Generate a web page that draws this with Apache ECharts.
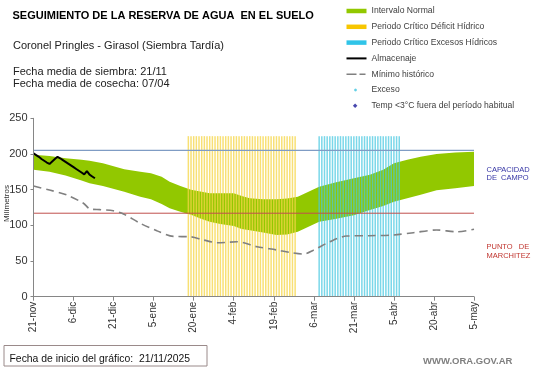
<!DOCTYPE html>
<html><head><meta charset="utf-8">
<script src="https://cdn.jsdelivr.net/npm/echarts@6/dist/echarts.min.js"></script>
<style>html,body{margin:0;padding:0;background:#fff}#c{width:541px;height:368px}</style>
</head><body><div id="c"></div>
<script>
// ---- data ----
const xTickLabels = ['21-nov','6-dic','21-dic','5-ene','20-ene','4-feb','19-feb','6-mar','21-mar','5-abr','20-abr','5-may'];
const yTicks = [0, 50, 100, 150, 200, 250];
// days counted from 21-nov
const bandDays  = [0, 6, 12, 18, 21, 26, 34, 40, 44, 48, 51, 55, 59, 63, 66, 70, 75, 78, 81, 86, 91, 95, 99, 103, 107, 113, 120, 126, 131, 135, 140, 145, 151, 158, 165];
const bandUpper = [199, 197, 194, 192, 190.5, 187, 178.5, 175, 173, 168, 161, 155, 150, 147, 145, 145, 145, 141, 138, 136.5, 136.5, 137.5, 140, 147, 154, 160, 166, 171, 178, 187, 192, 196, 200, 202, 203];
const bandLower = [178, 175, 170, 163, 159, 155, 147, 140, 136.5, 130, 124, 119, 115, 109, 105, 102, 99, 95, 93, 90, 86.5, 87, 91, 98, 105, 109, 114, 121.5, 127, 133, 138, 143, 149, 152, 155];
const minDays   = [0, 6, 12.5, 18.7, 21.2, 25, 29.9, 33.7, 39.9, 46.2, 52.4, 58.7, 63.7, 68.7, 72, 76.2, 83.7, 91.2, 96, 101.2, 104.8, 111, 117.3, 126, 134.8, 142.3, 151, 158.5, 165];
const minValues = [155, 149.5, 142.5, 131, 123, 122, 120.5, 116, 103, 92.5, 84.5, 84, 79.5, 75.7, 76, 77, 70, 65.4, 62, 59.8, 65, 77, 85, 85.5, 86.5, 89.7, 93.5, 91, 94.5];
const almDays   = [0, 1, 2, 3, 4, 5, 6, 7, 8, 9, 10, 11, 12, 13, 14, 15, 16, 17, 18, 19, 20, 21, 22, 23];
const almValues = [201, 198.5, 196, 193, 190.5, 188, 186, 189.5, 193, 196, 194, 191.5, 189, 186.5, 184, 181.5, 179, 176.5, 174, 171.5, 176, 171, 168.5, 166];
const deficitDays = [58,59,60,61,62,63,64,65,66,67,68,69,70,71,72,73,74,75,76,77,78,79,80,81,82,83,84,85,86,87,88,89,90,91,92,93,94,95,96,97,98];
const excesoDays  = [107,108,109,110,111,112,113,114,115,116,117,118,119,120,121,122,123,124,125,126,127,128,129,130,131,132,133,134,135,136,137];
const criticalTop = 225;
const capacidadCampo = 205;
const puntoMarchitez = 117;
const xMin = 0, xMax = 165, xStep = 15;

// ---- chart ----
const FONT = 'Arial, "Liberation Sans", sans-serif';
const green = '#92c800';
const chart = echarts.init(document.getElementById('c'), null, {renderer: 'canvas'});
const pairs = (xs, ys) => xs.map((x, i) => [x, ys[i]]);
const hide = {color: 'rgba(0,0,0,0)', borderWidth: 0, opacity: 0};
// legend glyphs kept inside a 20 x 5 box so they are not stretched
const dotIcon = 'path://M0,0M20,5M7.3,2.5L7.8,1.4L8.9,0.9L10,1.4L10.5,2.5L10,3.6L8.9,4.1L7.8,3.6Z';
const diamondIcon = 'path://M0,0M20,5M8.5,0L11,2.5L8.5,5L6,2.5Z';

chart.setOption({
  animation: false,
  textStyle: {fontFamily: FONT},
  grid: {left: 33.5, right: 67, top: 118.3, bottom: 71.3, outerBoundsMode: 'none', containLabel: false},
  title: [
    {text: 'SEGUIMIENTO DE LA RESERVA DE AGUA  EN EL SUELO', left: 12.5, top: 10, padding: 0,
     textStyle: {fontSize: 11, fontWeight: 'bold', color: '#000', fontFamily: FONT}},
    {text: 'Coronel Pringles - Girasol (Siembra Tardía)', left: 13, top: 40, padding: 0,
     textStyle: {fontSize: 11, fontWeight: 'normal', color: '#222', fontFamily: FONT}},
    {text: 'Fecha media de siembra: 21/11\nFecha media de cosecha: 07/04', left: 13, top: 65.5, padding: 0,
     textStyle: {fontSize: 11, fontWeight: 'normal', color: '#222', lineHeight: 12.3, fontFamily: FONT}},
    {text: 'CAPACIDAD\nDE  CAMPO', left: 486.5, top: 166, padding: 0,
     textStyle: {fontSize: 7.5, fontWeight: 'normal', color: '#3535a5', lineHeight: 8, fontFamily: FONT}},
    {text: 'PUNTO   DE\nMARCHITEZ', left: 486.5, top: 243, padding: 0,
     textStyle: {fontSize: 7.5, fontWeight: 'normal', color: '#c0352f', lineHeight: 8.7, fontFamily: FONT}},
    {text: 'Fecha de inicio del gráfico:  21/11/2025', left: 9.5, top: 354, padding: 0,
     textStyle: {fontSize: 10.4, fontWeight: 'normal', color: '#111', fontFamily: FONT}},
    {text: 'WWW.ORA.GOV.AR', left: 423, top: 356.5, padding: 0,
     textStyle: {fontSize: 9.5, fontWeight: 'bold', color: '#7f7f7f', fontFamily: FONT}}
  ],
  graphic: [
    {type: 'rect', shape: {x: 4, y: 345.5, width: 203, height: 20.5},
     style: {fill: 'none', stroke: '#9a8a8a', lineWidth: 1}}
  ],
  legend: {
    orient: 'vertical', left: 345.5, top: 6, padding: 0, itemWidth: 20, itemHeight: 4.5, itemGap: 5.8,
    textStyle: {fontSize: 8.6, color: '#404040', lineHeight: 10, fontFamily: FONT},
    data: [
      {name: 'Intervalo Normal', icon: 'rect', itemStyle: {color: green}},
      {name: 'Periodo Crítico Déficit Hídrico', icon: 'rect', itemStyle: {color: '#f7c600'}},
      {name: 'Periodo Crítico Excesos Hídricos', icon: 'rect', itemStyle: {color: '#30c4e8'}},
      {name: 'Almacenaje', itemStyle: hide, lineStyle: {color: '#000', width: 2}},
      {name: 'Mínimo histórico', itemStyle: hide, lineStyle: {color: '#808080', width: 1.6, type: [10, 3, 6, 3]}},
      {name: 'Exceso', icon: dotIcon, itemStyle: {color: '#3cc4e0'}},
      {name: 'Temp <3°C fuera del período habitual', icon: diamondIcon, itemStyle: {color: '#1a1a9a'}}
    ]
  },
  xAxis: {
    type: 'value', min: xMin, max: xMax, interval: xStep, z: 10,
    axisLine: {lineStyle: {color: '#868686', width: 1}},
    axisTick: {show: true, length: 4, lineStyle: {color: '#868686'}},
    splitLine: {show: false},
    axisLabel: {rotate: 90, fontSize: 10, color: '#333', margin: 5, fontFamily: FONT,
      formatter: v => xTickLabels[Math.round((v - xMin) / xStep)] || ''}
  },
  yAxis: {
    type: 'value', min: yTicks[0], max: yTicks[yTicks.length - 1], interval: 50, z: 10,
    name: 'Milímetros', nameLocation: 'middle', nameGap: 23, nameMoveOverlap: false,
    nameTextStyle: {fontSize: 8, color: '#333', fontFamily: FONT, padding: [0, 0, 0, 8]},
    axisLine: {show: true, lineStyle: {color: '#868686', width: 1}},
    axisTick: {show: true, length: 3, lineStyle: {color: '#868686'}},
    splitLine: {show: false},
    axisLabel: {fontSize: 11, color: '#333', margin: 6, fontFamily: FONT}
  },
  series: [
    {name: 'Intervalo Normal', type: 'line', z: 1, symbol: 'none', silent: true,
     data: pairs(bandDays, bandUpper), lineStyle: {width: 0},
     areaStyle: {color: green, opacity: 1, origin: 'start'}},
    {name: 'bandLowerMask', type: 'line', z: 1.5, symbol: 'none', silent: true,
     data: pairs(bandDays, bandLower), lineStyle: {width: 0},
     areaStyle: {color: '#ffffff', opacity: 1, origin: 'start'}},
    {name: 'Periodo Crítico Déficit Hídrico', type: 'bar', z: 3, barWidth: 1.5, barGap: '-100%',
     data: deficitDays.map(d => [d, criticalTop]),
     itemStyle: {color: 'rgba(245,214,70,0.75)'}},
    {name: 'Periodo Crítico Excesos Hídricos', type: 'bar', z: 3, barWidth: 1.5, barGap: '-100%',
     data: excesoDays.map(d => [d, criticalTop]),
     itemStyle: {color: 'rgba(70,200,225,0.72)'}},
    {name: 'Capacidad de campo', type: 'line', z: 4, symbol: 'none', silent: true,
     data: [[xMin, capacidadCampo], [xMax, capacidadCampo]],
     lineStyle: {color: '#7f9cc4', width: 1.2}},
    {name: 'Punto de marchitez', type: 'line', z: 4, symbol: 'none', silent: true,
     data: [[xMin, puntoMarchitez], [xMax, puntoMarchitez]],
     lineStyle: {color: '#c0504d', width: 1}},
    {name: 'Mínimo histórico', type: 'line', z: 5, symbol: 'none', smooth: 0.3,
     data: pairs(minDays, minValues),
     lineStyle: {color: '#808080', width: 1.6, type: [8, 5]}},
    {name: 'Almacenaje', type: 'line', z: 6, symbol: 'none',
     data: pairs(almDays, almValues),
     lineStyle: {color: '#000000', width: 2}},
    {name: 'Exceso', type: 'scatter', symbol: 'circle', symbolSize: 4, data: [],
     itemStyle: {color: '#3cc4e0'}},
    {name: 'Temp <3°C fuera del período habitual', type: 'scatter', symbol: 'diamond', symbolSize: 5, data: [],
     itemStyle: {color: '#1a1a9a'}}
  ]
});
</script>
</body></html>
